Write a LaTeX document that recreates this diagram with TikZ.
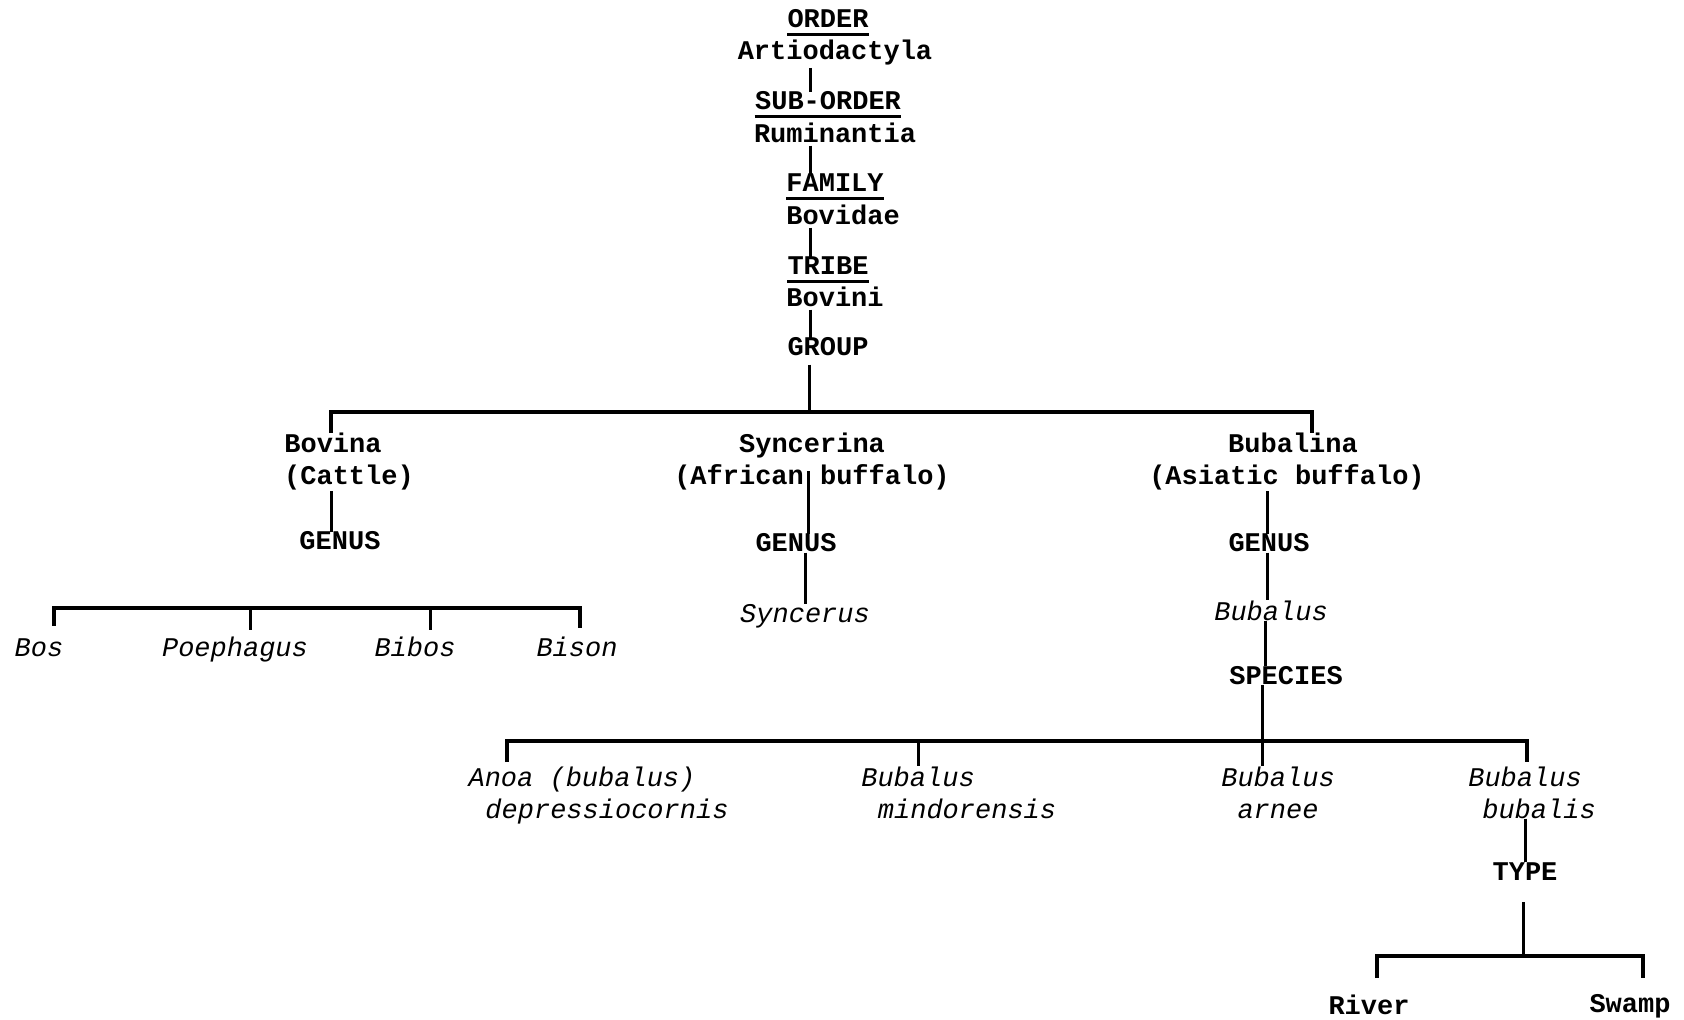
\documentclass[tikz,border=0pt]{standalone}
\usepackage{fontspec}
\setmonofont{Liberation Mono}
\usepackage{tikz}
\tikzstyle{taxon}=[font=\ttfamily\bfseries\fontsize{13.5}{16}\selectfont,anchor=base,inner sep=0pt]
\tikzstyle{latin}=[font=\ttfamily\itshape\fontsize{13.5}{16}\selectfont,anchor=base,inner sep=0pt]
\tikzstyle{link} = [draw,line width=1.5pt]
\tikzstyle{bar} = [draw,line width=2pt]
\tikzstyle{rank} = [draw,line width=1.5pt]

\begin{document}
\begin{tikzpicture}[x=0.5pt,y=-0.5pt]
    \useasboundingbox (0,0) rectangle (1684,1020);
    \foreach \pos/\name/\val in {{(828,28)/order/ORDER}, {(835,60)/artio/Artiodactyla},
    {(828,110)/suborder/SUB-ORDER}, {(835,143)/rumin/Ruminantia},
    {(835,192)/family/FAMILY}, {(843,225)/bovidae/Bovidae},
    {(828,275)/tribe/TRIBE}, {(835,307)/bovini/Bovini}, {(828,356)/group/GROUP},
    {(333,453)/bovina/Bovina}, {(349,485)/cattle/(Cattle)}, {(340,550)/genusa/GENUS},
    {(812,453)/syncerina/Syncerina}, {(812,485)/african/(African buffalo)},
    {(796,552)/genusb/GENUS}, {(1293,453)/bubalina/Bubalina},
    {(1287,485)/asiatic/(Asiatic buffalo)}, {(1269,552)/genusc/GENUS},
    {(1286,684)/species/SPECIES}, {(1525,880)/type/TYPE},
    {(1369,1014)/river/River}, {(1630,1012)/swamp/Swamp}}
        \node[taxon] (\name) at \pos {\val};

    \foreach \pos/\name/\val in {{(39,656)/bos/Bos}, {(235,656)/poephagus/Poephagus},
    {(415,656)/bibos/Bibos}, {(577,656)/bison/Bison}, {(805,622)/syncerus/Syncerus},
    {(1271,620)/bubalus/Bubalus}, {(582,786)/anoa/Anoa (bubalus)},
    {(607,818)/depress/depressiocornis}, {(918,786)/mindoa/Bubalus},
    {(967,818)/mindob/mindorensis}, {(1278,786)/arneea/Bubalus},
    {(1278,818)/arneeb/arnee}, {(1525,786)/bubalisa/Bubalus},
    {(1539,818)/bubalisb/bubalis}}
        \node[latin] (\name) at \pos {\val};

    \foreach \name in {order,suborder,family,tribe}
        \path[rank] ([yshift=-3pt]\name.south west) -- ([yshift=-3pt]\name.south east);

    \coordinate (trunk) at (810,0);
    \foreach \source/\dest in {artio/suborder,rumin/family,bovidae/tribe,bovini/group}
        \path[link,shorten <=1pt] (\source.south -| trunk) -- (\dest.north -| trunk);

    \coordinate (g1) at (331,412);
    \coordinate (gm) at (809,412);
    \coordinate (g3) at (1312,412);
    \path[link,shorten <=4pt] (group.south -| gm) -- (gm);
    \path[bar] (bovina.north -| g1) -- (g1) -- (g3) -- (bubalina.north -| g3);
    \path[link] (cattle.south -| g1) -- (genusa.north -| g1);

    \coordinate (sa) at (808,0);
    \coordinate (sb) at (805,0);
    \path[link,shorten <=6pt] (syncerina.south -| sa) -- (genusb.north -| sa);
    \path[link] (genusb.south -| sb) -- (syncerus.north -| sb);

    \coordinate (ba) at (1267,0);
    \coordinate (bb) at (1265,0);
    \path[link] (asiatic.south -| ba) -- (genusc.north -| ba);
    \path[link] (genusc.south -| ba) -- (bubalus.north -| ba);
    \path[link] (bubalus.south -| bb) -- (species.north -| bb);

    \coordinate (b1) at (54,608);
    \coordinate (b2) at (250,608);
    \coordinate (b3) at (430,608);
    \coordinate (b4) at (580,608);
    \path[bar,shorten <=6pt,shorten >=4pt] (bos.north -| b1) -- (b1) -- (b4) -- (bison.north -| b4);
    \foreach \c/\n in {b2/poephagus,b3/bibos}
        \path[link,shorten >=3pt] (\c) -- (\n.north -| \c);

    \coordinate (s1) at (507,741);
    \coordinate (s2) at (918,741);
    \coordinate (s3) at (1262,741);
    \coordinate (s4) at (1527,741);
    \path[link] (species.south -| s3) -- (s3);
    \path[bar,shorten <=2pt,shorten >=2pt] (anoa.north -| s1) -- (s1) -- (s4) -- (bubalisa.north -| s4);
    \foreach \c/\n in {s2/mindoa,s3/arneea}
        \path[link] (\c) -- (\n.north -| \c);

    \coordinate (t1) at (1525,0);
    \coordinate (t2) at (1523,956);
    \coordinate (r1) at (1377,956);
    \coordinate (r2) at (1643,956);
    \path[link] (bubalisb.south -| t1) -- (type.north -| t1);
    \path[link,shorten <=11pt] (type.south -| t2) -- (t2);
    \path[bar,shorten <=8pt,shorten >=8pt] (river.north -| r1) -- (r1) -- (r2) -- (swamp.north -| r2);
\end{tikzpicture}
\end{document}
